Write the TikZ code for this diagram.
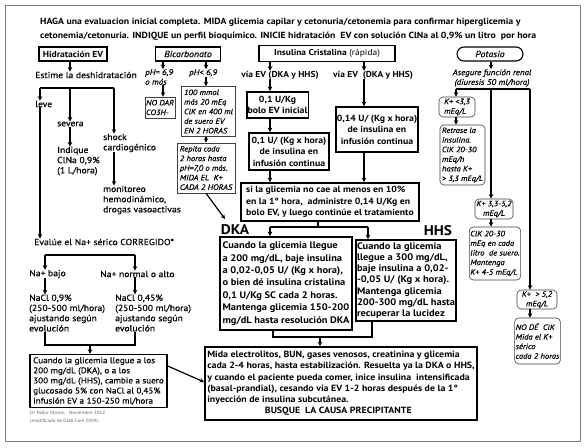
\documentclass[tikz,border=0pt]{standalone}
\usepackage{fontspec}
\setmainfont{PT Sans}[FakeStretch=1.1]
\newfontfamily\semib{PT Sans}[FakeStretch=1.1, FakeBold=0.4]
\usetikzlibrary{arrows.meta}
\begin{document}
\begin{tikzpicture}[x=1pt,y=-1pt,
  ar/.style={-{Stealth[length=4.5pt,width=4.5pt]}, line width=1.2pt},
  ln/.style={line width=1.2pt},
  tb/.style={draw, line width=1.8pt, inner sep=1pt, font=\bfseries\fontsize{8.9}{11.4}\selectfont},
  tbb/.style={tb, font=\bfseries\fontsize{9.5}{12.4}\selectfont},
  lt/.style={inner sep=0pt, align=left, anchor=west, font=\semib\fontsize{8.8}{10.2}\selectfont},
  it/.style={inner sep=0pt, align=left, font=\semib\itshape\fontsize{8.1}{9.7}\selectfont},
  ib/.style={draw=black!75, line width=0.6pt, inner sep=1pt, align=left, font=\semib\itshape\fontsize{7.7}{9.6}\selectfont},
  kb/.style={ib, rounded corners=4pt},
  hb/.style={draw, line width=1.1pt, inner sep=1pt, minimum height=14pt}
]
\fill[white] (0,0) rectangle (585,447);
\draw[black!50, line width=1pt] (5,5) rectangle (580,441);

% title
\node[anchor=west, align=left, inner sep=0pt, font=\bfseries\fontsize{8.9}{14}\selectfont] (title) at (40,29)
 {HAGA una evaluacion inicial completa. MIDA glicemia capilar y cetonuria/cetonemia para confirmar hiperglicemia y\\
  cetonemia/cetonuria. INDIQUE un perfil bioquímico. INICIE hidratación~ EV con solución ClNa al 0,9\% un litro~ por hora};

% headers
\node[hb, minimum width=68pt, font=\bfseries\fontsize{8.7}{10}\selectfont] (hyd) at (73,54) {Hidratación EV};
\node[hb, minimum width=65pt, font=\semib\itshape\fontsize{8.9}{10}\selectfont] (bic) at (188,54) {Bicarbonato};
\node[draw, line width=1.9pt, minimum width=136pt, minimum height=16pt, inner sep=1pt, font=\fontsize{8.6}{10}\selectfont] (ins) at (327,53.5) {\textbf{Insulina Cristalina} (rápida)};
\node[hb, rounded corners=7pt, minimum width=66pt, font=\semib\itshape\fontsize{8.9}{10}\selectfont] (pot) at (490,54) {Potasio};

% left column
\coordinate (h1) at (40,88); \coordinate (h2) at (70,88); \coordinate (h3) at (114,88);
\node[lt] (estime) at (35,75) {Estime la deshidratación};
\draw[ar] (hyd.south -| h2) -- (estime.north -| h2);
\draw[ln] (h1) -- (h3);
\node[lt] (leve) at (35,104) {leve};
\node[lt] (severa) at (57,124) {severa};
\node[lt] (shock) at (103,143) {shock\\cardiogénico};
\draw[ar] (h1) -- (leve.north -| h1);
\draw[ar] (h2) -- (severa.north -| h2);
\draw[ar] (h3) -- (shock.north -| h3);
\node[lt] (indique) at (57,161) {Indique\\ClNa 0,9\%\\(1 L/hora)};
\draw[ar] (severa.south -| h2) -- (indique.north -| h2);
\node[lt] (monit) at (103,200) {monitoreo\\hemodinámico,\\drogas vasoactivas};
\draw[ar] (shock.south -| h3) -- (monit.north -| h3);
\node[lt] (evalue) at (34,242) {Evalúe el Na+ sérico CORREGIDO*};
\draw[ar] (leve.south -| h1) -- (evalue.north -| h1);

\coordinate (n1) at (45,255); \coordinate (n2) at (135,255);
\draw[ln] (n1) -- (n2);
\node[lt] (nabajo) at (29,274) {Na+ bajo};
\node[lt] (nanorm) at (100,274) {Na+ normal o alto};
\draw[ar] (n1) -- (nabajo.north -| n1);
\draw[ar] (n2) -- (nanorm.north -| n2);
\node[lt] (nacl1) at (29,313) {NaCl 0,9\%\\(250-500 ml/hora)\\ajustando según\\evolución};
\node[lt] (nacl2) at (115,313) {NaCl 0,45\%\\(250-500 ml/hora)\\ajustando según\\evolución};
\draw[ar] (nabajo.south -| n1) -- (nacl1.north -| n1);
\draw[ar] (nanorm.south -| n2) -- (nacl2.north -| n2);
\coordinate (m1) at (45,345); \coordinate (m2) at (135,345); \coordinate (m3) at (90,345);
\draw[ln] (nacl1.south -| m1) -- (m1) -- (m2) -- (nacl2.south -| m2);
\node[draw, line width=1.5pt, minimum width=137pt, minimum height=53pt, inner sep=1pt, align=left, font=\semib\fontsize{8.3}{10.1}\selectfont] (cuando) at (98.5,381)
 {Cuando la glicemia llegue a los\\200 mg/dL (DKA), o a los\\300 mg/dL (HHS), cambie a suero\\glucosado 5\% con NaCl al 0,45\%\\infusión EV a 150-250 ml/hora};
\draw[ar] (m3) -- (cuando.north -| m3);
\node[anchor=west, inner sep=0pt, align=left, text=black!60, font=\fontsize{4.6}{8.5}\selectfont] (foot) at (30,417.5)
 {Dr Pablo Olmos,~~ Noviembre 2012\\(modificado de Diab Care 2009)};

% bicarbonato
\coordinate (bx1) at (163,0); \coordinate (bx2) at (206,0);
\node[it, anchor=west] (ph1) at (145,77) {pH= 6,9\\o más};
\node[it, anchor=west] (ph2) at (189,73) {pH< 6,9};
\draw[ar] (bic.south -| bx1) -- (ph1.north -| bx1);
\draw[ar] (bic.south -| bx2) -- (ph2.north -| bx2);
\node[ib, minimum width=29pt, minimum height=21pt] (nodar) at (160,107.5) {NO DAR\\CO3H-};
\draw[ar] (ph1.south -| bx1) -- (nodar.north -| bx1);
\node[ib, minimum width=54pt, minimum height=50pt] (mmol) at (208.5,111.5) {100 mmol\\más 20 mEq\\ClK en 400 ml\\de suero EV\\EN 2 HORAS};
\draw[ar] (ph2.south -| bx2) -- (mmol.north -| bx2);
\node[ib, minimum width=58pt, minimum height=50pt] (repita) at (206,168) {Repita cada\\2 horas hasta\\pH=7,0 o más.\\MIDA EL~ K+\\CADA 2 HORAS};
\draw[ar] (mmol.south -| bx2) -- (repita.north -| bx2);

% insulina
\coordinate (ix1) at (270,0); \coordinate (ix2) at (364,0);
\node[inner sep=0pt, font=\bfseries\fontsize{8.6}{10}\selectfont] (via1) at (280,75) {vía EV (DKA y HHS)};
\node[inner sep=0pt, anchor=west, font=\bfseries\fontsize{8.6}{10}\selectfont] (via2) at (333,75) {vía EV~ (DKA y HHS)};
\draw[ar] (ins.south -| ix1) -- (via1.north -| ix1);
\draw[ar] (ins.south -| ix2) -- (via2.north -| ix2);
\node[tb, minimum width=57pt, minimum height=26pt, align=center] (b1) at (277.5,105) {0,1 U/Kg\\bolo EV inicial};
\node[tb, minimum width=80pt, minimum height=37pt, align=center] (b2) at (289,151.5) {0,1 U/ (Kg x hora)\\de insulina en\\infusión continua};
\node[tb, minimum width=80pt, minimum height=45pt, align=center] (b3) at (377,129.5) {0,14 U/ (Kg x hora)\\de insulina en\\infusión continua};
\node[tb, minimum width=178pt, minimum height=38pt, align=left] (b4) at (330,202) {si la glicemia no cae al menos en 10\%\\en la 1° hora,~ administre 0,14 U/Kg en\\bolo EV, y luego continúe el tratamiento};
\draw[ar] (via1.south -| ix1) -- (b1.north -| ix1);
\draw[ar] (b1.south -| ix1) -- (b2.north -| ix1);
\draw[ar] (b2.south -| ix1) -- (b4.north -| ix1);
\draw[ar] (via2.south -| ix2) -- (b3.north -| ix2);
\draw[ar] (b3.south -| ix2) -- (b4.north -| ix2);

\node[tbb, minimum width=132pt, minimum height=93pt, align=left] (dka) at (286,283.5)
 {Cuando la glicemia llegue\\a 200 mg/dL, baje insulina\\a 0,02-0,05 U/ (Kg x hora),\\o bien dé insulina cristalina\\0,1 U/Kg SC cada 2 horas.\\Mantenga glicemia 150-200\\mg/dL hasta resolución DKA};
\node[tbb, minimum width=98pt, minimum height=81pt, align=left, font=\bfseries\fontsize{9.5}{11.2}\selectfont] (hhs) at (406,280.5)
 {Cuando la glicemia\\llegue a 300 mg/dL,\\baje insulina a 0,02-\\-0,05 U/ (Kg x hora).\\Mantenga glicemia\\200-300 mg/dL hasta\\recuperar la lucidez};
\node[inner sep=0pt, font=\bfseries\fontsize{14}{14}\selectfont] (dkal) at (235,230) {DKA};
\node[inner sep=0pt, font=\bfseries\fontsize{14}{14}\selectfont] (hhsl) at (438,231) {HHS};
\coordinate (s0) at (318,227); \coordinate (s1) at (270,227); \coordinate (s2) at (368,227);
\draw[ln] (b4.south -| s0) -- (s0);
\draw[ln] (s1) -- (s2);
\draw[ar] (s1) -- (dka.north -| s1);
\draw[ar] (s2) -- (hhs.north -| s2);
\coordinate (dk) at (225,219);
\draw[ar] (repita.south) -- (dk);

\coordinate (t1) at (273,337); \coordinate (t2) at (372,337); \coordinate (t3) at (320,337);
\draw[ln] (dka.south -| t1) -- (t1) -- (t2) -- (hhs.south -| t2);
\node[tbb, minimum width=272pt, minimum height=73pt, align=left, font=\bfseries\fontsize{9.0}{11.3}\selectfont] (bot) at (341,383.5)
 {Mida electrolitos, BUN, gases venosos, creatinina y glicemia\\cada 2-4 horas, hasta estabilización. Resuelta ya la DKA o HHS,\\y cuando el paciente pueda comer, inice insulina~ intensificada\\(basal-prandial), cesando vía EV 1-2 horas después de la 1°\\inyección de insulina subcutánea.\\\makebox[262pt][c]{BUSQUE~ LA CAUSA PRECIPITANTE}};
\draw[ar] (t3) -- (bot.north -| t3);
\draw[ar] (cuando.east |- 0,366) -- (bot.west |- 0,382);

% potasio
\coordinate (pl) at (456,89); \coordinate (pm) at (491,89); \coordinate (pr) at (530,89);
\node[it, align=center] (aseg) at (492,78) {Asegure función renal\\(diuresis 50 ml/hora)};
\draw[ar] (pot.south -| pm) -- (aseg.north -| pm);
\draw[ln] (pl) -- (pr);
\node[kb, minimum width=36pt, minimum height=20pt] (k1) at (457,107) {K+ <3,3\\mEq/L};
\node[kb, minimum width=45pt, minimum height=60pt] (k1r) at (462.5,155) {Retrase la\\insulina.\\ClK 20-30\\mEq/h\\hasta K+\\> 3,3 mEq/L};
\node[kb, minimum width=38pt, minimum height=20pt, align=center] (k2) at (494,209) {K+ 3,3-5,2\\mEq/L};
\node[kb, minimum width=46pt, minimum height=53pt] (k2r) at (495,253.5) {ClK 20-30\\mEq en cada\\litro~ de suero.\\Mantenga\\K+ 4-5 mEq/L};
\node[kb, minimum width=40pt, minimum height=19pt, align=center] (k3) at (537,299.5) {K+~ > 5,2\\mEq/L};
\node[kb, minimum width=45pt, minimum height=46pt] (k3r) at (537.5,341) {NO DÉ~ ClK\\Mida el K+\\sérico\\cada 2 horas};
\draw[ar] (pl) -- (k1.north -| pl);
\draw[ar] (k1.south -| pl) -- (k1r.north -| pl);
\draw[ar] (pm) -- (k2.north -| pm);
\draw[ar] (k2.south -| pm) -- (k2r.north -| pm);
\draw[ar] (pr) -- (k3.north -| pr);
\draw[ar] (k3.south -| pr) -- (k3r.north -| pr);
\end{tikzpicture}
\end{document}
